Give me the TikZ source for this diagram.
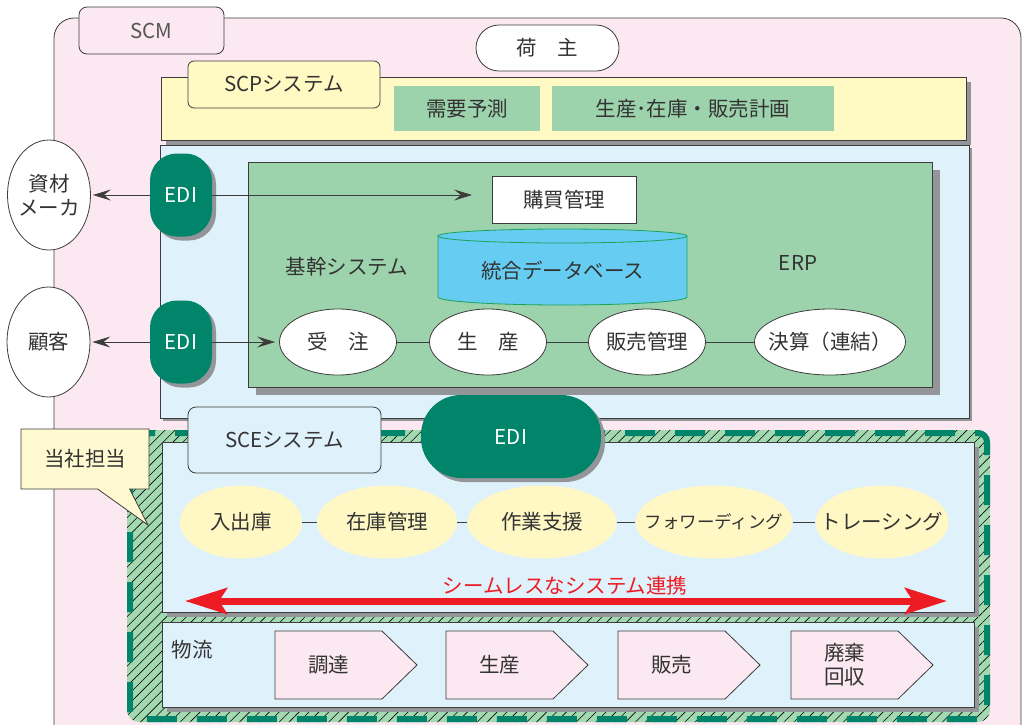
\documentclass[tikz,border=0pt]{standalone}
\usepackage{fontspec}
\setmainfont{Noto Sans CJK JP}
\usetikzlibrary{shapes.geometric,shapes.callouts,shadows,arrows.meta,patterns.meta}
\definecolor{pinkbg}{HTML}{FCE8F1}
\definecolor{scpy}{HTML}{FFF9C3}
\definecolor{erpg}{HTML}{9CD3AC}
\definecolor{lblue}{HTML}{DFF1FB}
\definecolor{edig}{HTML}{00856A}
\definecolor{cylb}{HTML}{66CCF2}
\definecolor{cylline}{HTML}{1BA35A}
\definecolor{shgray}{HTML}{939598}
\definecolor{hatchg}{HTML}{A3D9B1}
\definecolor{yel}{HTML}{FFF8C4}
\definecolor{cally}{HTML}{FFF9D1}
\definecolor{red1}{HTML}{ED1C24}
\definecolor{tc}{HTML}{333333}
\definecolor{lc}{HTML}{3C3C3C}
\definecolor{scmtext}{HTML}{555555}
\begin{document}
\begin{tikzpicture}[x=1pt,y=-1pt,
  every node/.style={font=\fontsize{20.5pt}{24pt}\selectfont, text=tc, inner sep=0pt, align=center},
  ln/.style={draw=lc, line width=0.8pt},
  shd/.style={drop shadow={shadow xshift=#1, shadow yshift=-#1, fill=shgray, opacity=1}},
  shd/.default=5pt,
  edi/.style={fill=edig, text=white, shd=4pt},
  fixov/.style={ellipse, inner xsep=-60pt, inner ysep=-30pt},
  wov/.style={ln, fixov, fill=white, minimum height=66pt},
  yov/.style={fixov, fill=yel, minimum height=73pt},
  arr/.style={draw=lc, line width=0.8pt, -{Stealth[length=18pt,width=11pt,inset=7pt]}},
  redtip/.tip={Stealth[length=42pt,width=26pt,inset=8pt]}
]
\clip (0,0) rectangle (1023,724);
% SCM background
\draw[ln, fill=pinkbg, rounded corners=20pt] (54,18) rectangle (1021,770);
\node[ln, fill=pinkbg, rounded corners=8pt, minimum width=145pt, minimum height=47pt, text=scmtext] (scm) at (151.5,30.5) {SCM};
\node[ln, fill=white, rounded corners=23pt, minimum width=143pt, minimum height=46pt] (ninushi) at (547.5,48) {荷　主};
% SCP
\node[ln, fill=scpy, shd, minimum width=805pt, minimum height=63pt] (scp) at (563.5,108.5) {};
\node[ln, fill=scpy, rounded corners=6pt, minimum width=192pt, minimum height=47pt] (scptab) at (284,84.5) {SCPシステム};
\node[fill=erpg, minimum width=146pt, minimum height=45pt] (juyo) at (467,108.5) {需要予測};
\node[fill=erpg, minimum width=282pt, minimum height=45pt] (keikaku) at (693,108.5) {生産･在庫・販売計画};
% ERP
\node[ln, fill=lblue, shd=3pt, minimum width=809pt, minimum height=273pt] (erpwrap) at (564.5,281.5) {};
\node[ln, fill=erpg, shd=8pt, minimum width=684pt, minimum height=225pt] (erp) at (590,274.5) {};
\node[ln, fill=white, minimum width=144pt, minimum height=47pt] (kobai) at (564,199.5) {購買管理};
\fill[cylb] (438,236) -- (438,297) arc[start angle=180, end angle=360, x radius=124.5pt, y radius=8pt] -- (687,236) arc[start angle=0, end angle=180, x radius=124.5pt, y radius=7pt] -- cycle;
\draw[cylline, line width=0.8pt] (438,236) -- (438,297) arc[start angle=180, end angle=360, x radius=124.5pt, y radius=8pt] -- (687,236);
\draw[cylline, line width=0.8pt] (562.5,236) ellipse [x radius=124.5pt, y radius=7pt];
\node (db) at (562.5,271) {統合データベース};
\node (kikan) at (347,267) {基幹システム};
\node (erplbl) at (798,263) {ERP};
\node[wov, minimum width=117pt] (juchu) at (338,342) {受　注};
\node[wov, minimum width=117pt] (seisan) at (488,342) {生　産};
\node[wov, minimum width=117pt] (hanbai) at (647,342) {販売管理};
\node[wov, minimum width=151pt] (kessan) at (830,342) {決算（連結）};
\draw[ln] (juchu) -- (seisan);
\draw[ln] (seisan) -- (hanbai);
\draw[ln] (hanbai) -- (kessan);
% EDI and partners
\node[edi, minimum width=62pt, minimum height=83pt, rounded corners=27pt] (edi1) at (181,195) {EDI};
\node[edi, minimum width=62pt, minimum height=83pt, rounded corners=27pt] (edi2) at (181,342) {EDI};
\node[ln, fixov, fill=white, minimum width=83pt, minimum height=110pt] (shizai) at (49,195) {資材\\メーカ};
\node[ln, fixov, fill=white, minimum width=83pt, minimum height=110pt] (kokyaku) at (48.5,342) {顧客};
\coordinate (kobaiin) at (472,195);
\draw[arr, shorten >=2pt] (edi1.west) -- (shizai.east);
\draw[arr] (edi1.east) -- (kobaiin);
\draw[arr, shorten >=2pt] (edi2.west) -- (kokyaku.east);
\draw[arr, shorten >=4pt] (edi2.east) -- (juchu.west);
% SCE region
\fill[hatchg, rounded corners=12pt] (127,430) rectangle (990,722);
\fill[pattern={Lines[angle=45,distance=7pt,line width=0.6pt]}, pattern color=black, rounded corners=12pt] (127,430) rectangle (990,722);
\draw[edig, line width=6pt, dash pattern=on 30pt off 20pt, dash phase=10pt, rounded corners=9pt] (130,433) rectangle (987,719);
\node[ln, fill=lblue, shd=5pt, minimum width=812pt, minimum height=170pt] (scepanel) at (568,527) {};
\node[ln, fill=lblue, shd=5pt, minimum width=812pt, minimum height=85pt] (butsupanel) at (568,664.5) {};
\node[ln, fill=lblue, rounded corners=8pt, minimum width=193pt, minimum height=66pt] (scetab) at (284.5,440) {SCEシステム};
\node[edi, minimum width=180pt, minimum height=83pt, rounded corners=40pt] (edi3) at (511,436.5) {EDI};
\node[yov, minimum width=122pt] (nyu) at (241,522) {入出庫};
\node[yov, minimum width=140pt] (zaiko) at (387,522) {在庫管理};
\node[yov, minimum width=149pt] (sagyo) at (542,522) {作業支援};
\node[yov, minimum width=157pt, font=\fontsize{17.5pt}{22pt}\selectfont] (forward) at (714,522) {フォワーディング};
\node[yov, minimum width=133pt] (trace) at (882,522) {トレーシング};
\draw[ln] (nyu) -- (zaiko);
\draw[ln] (zaiko) -- (sagyo);
\draw[ln] (sagyo) -- (forward);
\draw[ln] (forward) -- (trace);
\coordinate (sl) at (185,601);
\coordinate (sr) at (947,601);
\draw[red1, line width=7pt, redtip-redtip] (sl) -- (sr);
\node[text=red1] (seamless) at (565,586) {シームレスなシステム連携};
\node (butsu) at (192,650) {物流};
\foreach \x/\t [count=\i] in {275/調達,446/生産,618/販売,791/廃棄\\回収} {
  \draw[ln, fill=pinkbg] (\x,631) -- ++(107,0) -- ++(35,34) -- ++(-35,34) -- ++(-107,0) -- cycle;
  \node (p\i) at (\x+53.5,665) {\t};
}
% callout
\node[rectangle callout, ln, fill=cally, minimum width=128pt, minimum height=60pt, callout absolute pointer={(148,525)}, callout pointer width=32pt] (tosha) at (85,459) {当社担当};
\end{tikzpicture}
\end{document}
